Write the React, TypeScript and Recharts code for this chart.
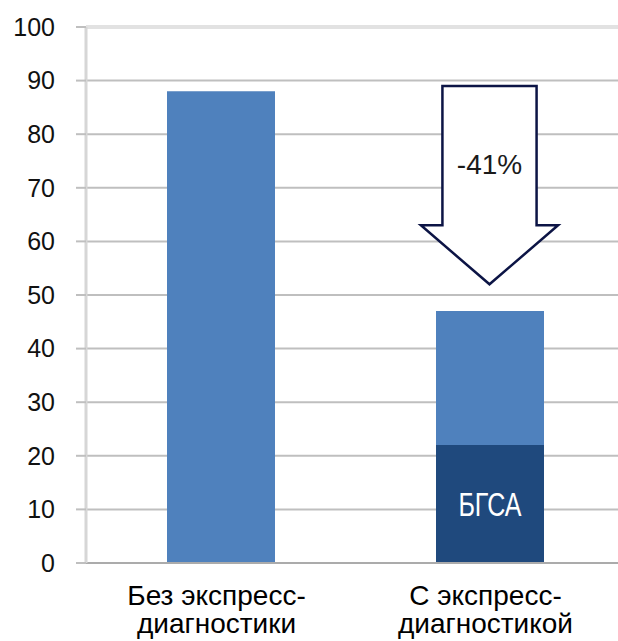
import React from "react";
import {
  BarChart,
  Bar,
  XAxis,
  YAxis,
  CartesianGrid,
  ReferenceArea,
  ReferenceLine,
  LabelList,
} from "recharts";

// ---- data ----
const categories = ["Без экспресс-диагностики", "С экспресс-диагностикой"];
const bgsaValues: (number | null)[] = [null, 22];
const otherValues: number[] = [88, 25];
const bgsaLabel = "БГСА";
const yTicks = [0, 10, 20, 30, 40, 50, 60, 70, 80, 90, 100];
const arrowCategory = categories[1];
const arrowTop = 89;
const arrowNeck = 63;
const arrowTip = 52;
const arrowLabel = "-41%";
const arrowLabelValue = 74.3;

const data = categories.map((name, i) => ({
  name,
  bgsa: bgsaValues[i],
  other: otherValues[i],
}));

const FONT = "'Liberation Sans', Arial, sans-serif";

const XTick = (props: any) => {
  const { x, y, payload } = props;
  const name: string = payload.value;
  const idx = name.indexOf("-");
  const lines = idx >= 0 ? [name.slice(0, idx + 1), name.slice(idx + 1)] : [name];
  const cx = x - 4;
  return (
    <text textAnchor="middle" fontFamily={FONT} fontSize={28} fill="#000">
      {lines.map((l, i) => (
        <tspan key={i} x={cx} y={y + 42 + i * 28}>
          {l}
        </tspan>
      ))}
    </text>
  );
};

const ArrowShape = (props: any) => {
  const { x, y, width, height } = props;
  if (x == null || y == null) return null;
  const k = height / (arrowTop - arrowTip);
  const yNeck = y + (arrowTop - arrowNeck) * k;
  const yLabel = y + (arrowTop - arrowLabelValue) * k;
  const cx = x + width / 2;
  const sh = width * 0.175;
  const wh = width * 0.255;
  const pts = [
    [cx - sh, y],
    [cx + sh, y],
    [cx + sh, yNeck],
    [cx + wh, yNeck],
    [cx, y + height],
    [cx - wh, yNeck],
    [cx - sh, yNeck],
  ]
    .map((p) => p.join(","))
    .join(" ");
  return (
    <g>
      <polygon points={pts} fill="#fff" stroke="#0c1445" strokeWidth={2.5} strokeLinejoin="miter" />
      <text
        x={cx}
        y={yLabel}
        textAnchor="middle"
        dominantBaseline="central"
        fontFamily={FONT}
        fontSize={28}
        fill="#1a1a1a"
      >
        {arrowLabel}
      </text>
    </g>
  );
};

const BgsaLabel = (props: any) => {
  const { x, y, width, height, value } = props;
  if (value == null) return null;
  const cx = x + width / 2;
  const cy = y + height / 2;
  return (
    <text
      transform={`translate(${cx},${cy}) scale(0.76,1)`}
      textAnchor="middle"
      dominantBaseline="central"
      fontFamily={FONT}
      fontSize={33}
      fill="#ffffff"
    >
      {bgsaLabel}
    </text>
  );
};

export default function App() {
  return (
    <div
      style={{
        position: "fixed",
        left: 0,
        top: 0,
        width: 618,
        height: 641,
        overflow: "hidden",
        background: "#fff",
      }}
    >
      <BarChart
        width={660}
        height={641}
        data={data}
        margin={{ top: 27, right: 36, bottom: 0, left: 0 }}
        barCategoryGap={0}
      >
        <CartesianGrid vertical={false} stroke="#bfbfbf" strokeWidth={2} />
        <XAxis
          xAxisId="grid"
          type="number"
          domain={[0, 2]}
          ticks={[0, 1, 2]}
          height={0}
          axisLine={false}
          tick={false}
          tickSize={9}
          tickLine={{ stroke: "#c8c8c8", strokeWidth: 2 }}
        />
        <XAxis
          dataKey="name"
          height={78}
          tickLine={false}
          tickSize={0}
          tickMargin={0}
          axisLine={{ stroke: "#ababab", strokeWidth: 2 }}
          tick={<XTick />}
          interval={0}
        />
        <YAxis
          width={86}
          domain={[0, 100]}
          ticks={yTicks}
          interval={0}
          tickSize={10}
          tickMargin={21}
          axisLine={{ stroke: "#d6d6d6", strokeWidth: 3 }}
          tickLine={{ stroke: "#bfbfbf", strokeWidth: 2 }}
          tick={{ fontSize: 25, fill: "#111", fontFamily: FONT }}
        />
        <ReferenceLine y={100} stroke="#e2e2e2" strokeWidth={4} />
        <Bar dataKey="bgsa" stackId="a" fill="#1f497d" barSize={108} isAnimationActive={false}>
          <LabelList dataKey="bgsa" content={<BgsaLabel />} />
        </Bar>
        <Bar dataKey="other" stackId="a" fill="#4f81bd" barSize={108} isAnimationActive={false} />
        <ReferenceArea
          x1={arrowCategory}
          x2={arrowCategory}
          y1={arrowTip}
          y2={arrowTop}
          ifOverflow="visible"
          shape={<ArrowShape />}
        />
      </BarChart>
    </div>
  );
}
